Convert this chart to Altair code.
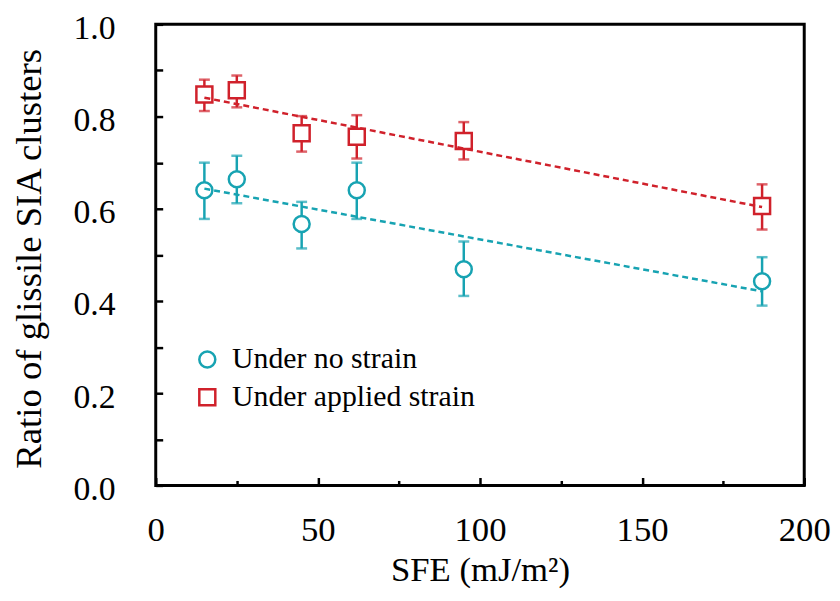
import altair as alt
import pandas as pd

sfe = [15, 25, 45, 62, 95, 187]
no_strain = [0.640, 0.664, 0.567, 0.640, 0.469, 0.443]
no_lo = [0.578, 0.612, 0.514, 0.578, 0.411, 0.390]
no_hi = [0.700, 0.715, 0.615, 0.700, 0.529, 0.495]
applied = [0.848, 0.857, 0.764, 0.756, 0.747, 0.606]
ap_lo = [0.812, 0.820, 0.724, 0.709, 0.707, 0.555]
ap_hi = [0.880, 0.889, 0.801, 0.803, 0.788, 0.653]

series_names = ["Under no strain", "Under applied strain"]
colors = ["#17a3b2", "#d0212b"]
shapes = ["circle", "square"]

x_ticks = [0, 25, 50, 75, 100, 125, 150, 175, 200]
y_ticks = [0.0, 0.1, 0.2, 0.3, 0.4, 0.5, 0.6, 0.7, 0.8, 0.9, 1.0]

rows = []
for name, ys, lo, hi in [(series_names[0], no_strain, no_lo, no_hi),
                         (series_names[1], applied, ap_lo, ap_hi)]:
    for x, y, l, h in zip(sfe, ys, lo, hi):
        rows.append({"sfe": x, "ratio": y, "lo": l, "hi": h, "series": name})
df = pd.DataFrame(rows)

FONT = "Liberation Serif"

xaxis = alt.Axis(
    values=x_ticks,
    labelExpr="datum.value % 50 === 0 ? datum.label : ''",
    tickSize={"condition": {"test": "datum.value % 50 !== 0", "value": -5}, "value": -8},
    tickWidth=2.5, tickColor="black", domain=False, grid=False,
    labelFont=FONT, labelFontSize=35, labelColor="black", labelPadding=64,
    labelBaseline="alphabetic", labelFlush=False,
    title="SFE (mJ/m²)", titleFont=FONT, titleFontSize=35, titleFontWeight="normal",
    titleColor="black", titleBaseline="alphabetic", titleY=96,
)
yaxis = alt.Axis(
    values=y_ticks,
    labelExpr="round(datum.value * 10) % 2 === 0 ? format(datum.value, '.1f') : ''",
    tickSize=alt.ExprRef(expr="-7"),
    tickWidth=2.5, tickColor="black", domain=False, grid=False,
    labelFont=FONT, labelFontSize=34, labelColor="black", labelPadding=48,
    labelOffset=4, labelFlush=False,
    title="Ratio of glissile SIA clusters", titleFont=FONT, titleFontSize=37,
    titleFontWeight="normal", titleColor="black", titleBaseline="alphabetic",
    titleX=-116, titleY=236,
)

x = alt.X("sfe:Q", scale=alt.Scale(domain=[0, 200], nice=False), axis=xaxis)
yscale = alt.Scale(domain=[0, 1], nice=False)
y = alt.Y("ratio:Q", scale=yscale, axis=yaxis)
ylo = alt.Y("lo:Q", scale=yscale, axis=yaxis)
yhi = alt.Y("hi:Q", scale=yscale, axis=yaxis)

legend_def = dict(orient="none", legendX=37, legendY=323, title=None,
                  labelFont=FONT, labelFontSize=30, labelColor="black", labelLimit=0,
                  symbolSize=260, symbolStrokeWidth=2.5, symbolFillColor="white",
                  rowPadding=8, labelOffset=10, padding=0)

base = alt.Chart(df)

err_layers = []
trend_layers = []
for name, col in zip(series_names, colors):
    sub = base.transform_filter(alt.datum.series == name)
    err_layers.append(sub.mark_rule(color=col, strokeWidth=2.5).encode(x=x, y=ylo, y2="hi:Q"))
    err_layers.append(sub.mark_tick(color=col, orient="horizontal", size=11, thickness=2.5)
                      .encode(x=x, y=ylo))
    err_layers.append(sub.mark_tick(color=col, orient="horizontal", size=11, thickness=2.5)
                      .encode(x=x, y=yhi))
    trend_layers.append(sub.transform_regression("sfe", "ratio")
                        .mark_line(color=col, strokeDash=[6, 4], strokeWidth=2.5)
                        .encode(x=x, y=y))

pts = base.mark_point(filled=False, fill="white", fillOpacity=1, strokeWidth=2.5,
                      size=260).encode(
    x=x, y=y,
    color=alt.Color("series:N", scale=alt.Scale(domain=series_names, range=colors),
                    legend=alt.Legend(**legend_def)),
    shape=alt.Shape("series:N", scale=alt.Scale(domain=series_names, range=shapes),
                    legend=alt.Legend(**legend_def)),
)

chart = alt.layer(*err_layers, pts, *trend_layers).properties(
    width=654, height=465,
    autosize=alt.AutoSizeParams(type="none"),
    padding={"left": 149, "top": 14, "right": 28, "bottom": 106},
).configure_view(stroke="black", strokeWidth=3)

chart.save("out.html", embed_options={"renderer": "svg", "actions": False})
